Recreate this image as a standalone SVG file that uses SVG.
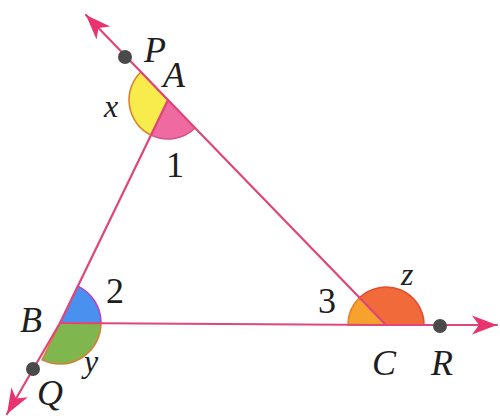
<svg xmlns="http://www.w3.org/2000/svg" width="500" height="416" viewBox="0 0 500 416">
<defs>
<marker id="arr" markerUnits="userSpaceOnUse" viewBox="-26 -11 28 22" markerWidth="28" markerHeight="22" refX="0" refY="0" orient="auto">
<path d="M0,0 L-25,-9.5 L-18,0 L-25,9.5 Z" fill="#e8336e"/>
</marker>
</defs>
<style>
.ln{stroke:#e0457b;stroke-width:2.2;fill:none;stroke-linecap:round}
.w{stroke-width:1.6;stroke-linejoin:round}
.dot{fill:#4a4a4a}
.lb{font-family:"Liberation Serif","Times New Roman",serif;font-style:italic;font-size:36px;fill:#1e1e1e}
.lc{font-family:"Liberation Serif","Times New Roman",serif;font-style:italic;font-size:32px;fill:#1e1e1e}
.dg{font-family:"Liberation Serif","Times New Roman",serif;font-size:36px;fill:#1e1e1e;text-anchor:middle}
</style>
<rect width="500" height="416" fill="#ffffff"/>

<g id="angle-A">
<path class="w" d="M168,100 L195.1,128 A39,39 0 0 1 151,135.1 Z" fill="#ef6aa0" stroke="#d8508a"/>
<path class="w" d="M168,100 L151,135.1 A39,39 0 0 1 140.9,72 Z" fill="#f7ec4c" stroke="#d8842e"/>
</g>
<g id="angle-B">
<path class="w" d="M60,323 L77.9,286.1 A41,41 0 0 1 101,323 Z" fill="#4a90ee" stroke="#b444c4"/>
<path class="w" d="M60,323 L101,323 A41,41 0 0 1 42.1,359.9 Z" fill="#7fb64e" stroke="#d3803c"/>
</g>
<g id="angle-C">
<path class="w" d="M386,325 L348,325 A38,38 0 0 1 359.6,297.7 Z" fill="#f6a22c" stroke="#e8802a"/>
<path class="w" d="M386,325 L359.6,297.7 A38,38 0 0 1 424,325 Z" fill="#f06a3a" stroke="#e0502e"/>
</g>

<g id="connectors">
<line class="ln" x1="168" y1="100" x2="60" y2="323"/>
<line class="ln" x1="60" y1="323" x2="386" y2="325"/>
<line class="ln" x1="168" y1="100" x2="386" y2="325"/>
<line class="ln" x1="168" y1="100" x2="86" y2="15" marker-end="url(#arr)"/>
<line class="ln" x1="60" y1="323" x2="7" y2="414" marker-end="url(#arr)"/>
<line class="ln" x1="386" y1="325" x2="497" y2="325" marker-end="url(#arr)"/>
</g>

<g id="point-P">
<circle class="dot" cx="125" cy="57" r="7"/>
<text class="lb" x="144" y="62">P</text>
</g>
<g id="vertex-A">
<text class="lb" x="163" y="87">A</text>
<text class="lc" x="104" y="117">x</text>
<text class="dg" x="175" y="177">1</text>
</g>
<g id="vertex-B">
<text class="lb" x="20" y="332">B</text>
<text class="dg" x="115" y="303">2</text>
<text class="lc" x="84" y="372">y</text>
</g>
<g id="point-Q">
<circle class="dot" cx="33" cy="369" r="7"/>
<text class="lb" x="37" y="405">Q</text>
</g>
<g id="vertex-C">
<text class="lb" x="372" y="375">C</text>
<text class="dg" x="327" y="313">3</text>
<text class="lc" x="401" y="285">z</text>
</g>
<g id="point-R">
<circle class="dot" cx="440" cy="326" r="7"/>
<text class="lb" x="431" y="375">R</text>
</g>
</svg>
